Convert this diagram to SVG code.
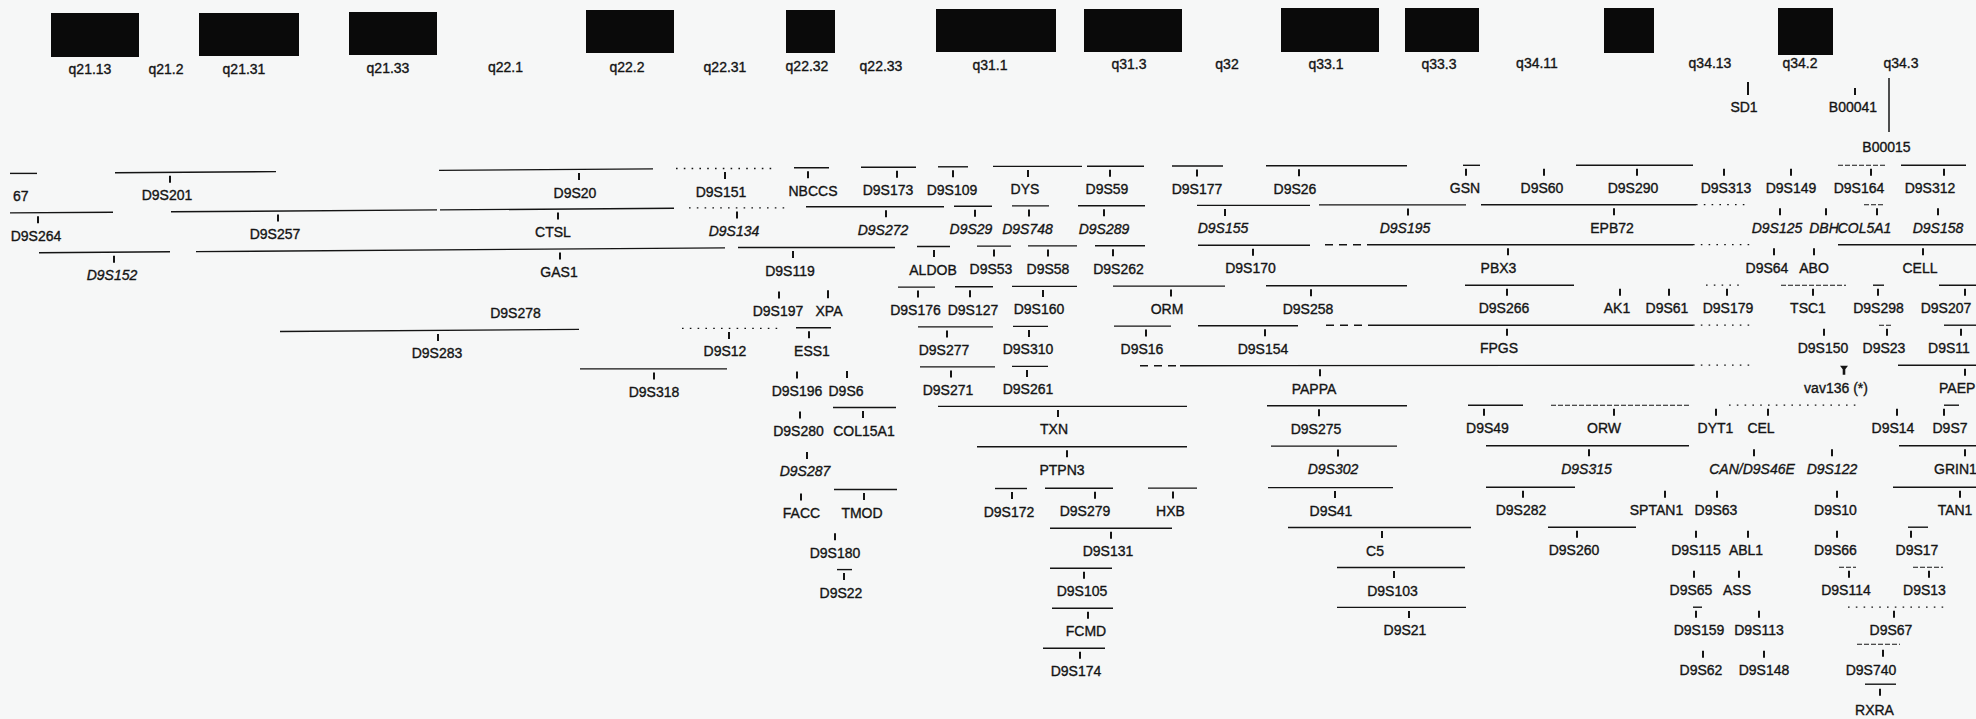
<svg xmlns="http://www.w3.org/2000/svg" width="1976" height="719" viewBox="0 0 1976 719">
<style>
.bg{fill:#f6f7f7}
.bx{fill:#0a0a0a}
.b{stroke:#141414;stroke-width:1.4;fill:none}
.t{stroke:#141414;stroke-width:2}
.dot{stroke-dasharray:1.6 6.2;stroke-width:1.3}
.dsh{stroke-dasharray:8 6}
.fnt{stroke-dasharray:5 2;stroke-width:1.1}
text{font-family:"Liberation Sans",Arial,sans-serif;font-size:14px;fill:#141414;stroke:#141414;stroke-width:0.35;text-anchor:middle}
.i{font-style:italic}
.s{text-anchor:start}
</style>
<rect class="bg" x="0" y="0" width="1976" height="719"/>
<g id="bands">
<g id="band-q21.13"><rect class="bx" x="51" y="13" width="88" height="44"/><text x="90" y="74">q21.13</text></g>
<g id="band-q21.2"><text x="166" y="74">q21.2</text></g>
<g id="band-q21.31"><rect class="bx" x="199" y="13" width="100" height="43"/><text x="244" y="74">q21.31</text></g>
<g id="band-q21.33"><rect class="bx" x="349" y="12" width="88" height="43"/><text x="388" y="72.5">q21.33</text></g>
<g id="band-q22.1"><text x="505.5" y="72">q22.1</text></g>
<g id="band-q22.2"><rect class="bx" x="586" y="10" width="88" height="43"/><text x="627" y="71.5">q22.2</text></g>
<g id="band-q22.31"><text x="725" y="71.5">q22.31</text></g>
<g id="band-q22.32"><rect class="bx" x="786" y="10" width="49" height="43"/><text x="807" y="71">q22.32</text></g>
<g id="band-q22.33"><text x="881" y="70.5">q22.33</text></g>
<g id="band-q31.1"><rect class="bx" x="936" y="9" width="120" height="43"/><text x="990" y="69.5">q31.1</text></g>
<g id="band-q31.3"><rect class="bx" x="1084" y="9" width="98" height="43"/><text x="1129" y="69">q31.3</text></g>
<g id="band-q32"><text x="1227" y="69">q32</text></g>
<g id="band-q33.1"><rect class="bx" x="1281" y="8" width="98" height="44"/><text x="1326" y="68.5">q33.1</text></g>
<g id="band-q33.3"><rect class="bx" x="1405" y="8" width="74" height="44"/><text x="1439" y="68.5">q33.3</text></g>
<g id="band-q34.11"><text x="1537" y="68.3">q34.11</text></g>
<g id="band-q34.12"><rect class="bx" x="1604" y="8" width="50" height="45"/></g>
<g id="band-q34.13"><text x="1710" y="68.3">q34.13</text></g>
<g id="band-q34.2"><rect class="bx" x="1778" y="8" width="55" height="47"/><text x="1800" y="68.3">q34.2</text></g>
<g id="band-q34.3"><text x="1901" y="68.3">q34.3</text></g>
</g>
<g id="connectors">
<line class="b" x1="1889" y1="78" x2="1889" y2="132" style="stroke-width:1.5"/>
</g>
<g id="n-SD1"><line class="t" x1="1748" y1="82" x2="1748" y2="95"/><text x="1744" y="112">SD1</text></g>
<g id="n-B00041"><line class="t" x1="1855" y1="88" x2="1855" y2="95"/><text x="1853" y="112">B00041</text></g>
<g id="n-B00015"><text x="1886.5" y="152">B00015</text></g>

<!-- Row 1 -->
<g id="n-67" transform="translate(0,6.9)"><line class="b" x1="10" y1="166.5" x2="37" y2="166.5"/><text class="s" x="13" y="194.5">67</text></g>
<g id="n-D9S201" transform="translate(0,5.8)"><line class="b" x1="115" y1="166.9" x2="276" y2="165.8"/><line class="t" x1="170" y1="170" x2="170" y2="177"/><text x="167" y="194.5">D9S201</text></g>
<g id="n-D9S20" transform="translate(0,3)"><line class="b" x1="439" y1="167.4" x2="653" y2="165.9"/><line class="t" x1="579" y1="170" x2="579" y2="177"/><text x="575" y="194.5">D9S20</text></g>
<g id="n-D9S151" transform="translate(0,2)"><line class="b dot" x1="676" y1="166.5" x2="775" y2="166.5"/><line class="t" x1="725" y1="170" x2="725" y2="177"/><text x="721" y="194.5">D9S151</text></g>
<g id="n-NBCCS" transform="translate(0,1.3)"><line class="b" x1="794" y1="166.5" x2="829" y2="166.5"/><line class="t" x1="808" y1="170" x2="808" y2="177"/><text x="813" y="194.5">NBCCS</text></g>
<g id="n-D9S173" transform="translate(0,0.8)"><line class="b" x1="861" y1="166.5" x2="916" y2="166.5"/><line class="t" x1="897" y1="170" x2="897" y2="177"/><text x="888" y="194.5">D9S173</text></g>
<g id="n-D9S109" transform="translate(0,0.3)"><line class="b" x1="938" y1="166.5" x2="968" y2="166.5"/><line class="t" x1="953" y1="170" x2="953" y2="177"/><text x="952" y="194.5">D9S109</text></g>
<g id="n-DYS" transform="translate(0,-0.1)"><line class="b" x1="993" y1="166.5" x2="1082" y2="166.5"/><line class="t" x1="1028" y1="170" x2="1028" y2="177"/><text x="1025" y="194.5">DYS</text></g>
<g id="n-D9S59" transform="translate(0,-0.3)"><line class="b" x1="1087" y1="166.5" x2="1144" y2="166.5"/><line class="t" x1="1110" y1="170" x2="1110" y2="177"/><text x="1107" y="194.5">D9S59</text></g>
<g id="n-D9S177" transform="translate(0,-0.5)"><line class="b" x1="1172" y1="166.5" x2="1223" y2="166.5"/><line class="t" x1="1197" y1="170" x2="1197" y2="177"/><text x="1197" y="194.5">D9S177</text></g>
<g id="n-D9S26" transform="translate(0,-0.8)"><line class="b" x1="1266" y1="166.5" x2="1407" y2="166.5"/><line class="t" x1="1299" y1="170" x2="1299" y2="177"/><text x="1295" y="194.5">D9S26</text></g>
<g id="n-GSN" transform="translate(0,-1.2)"><line class="b" x1="1463" y1="166.5" x2="1480" y2="166.5"/><line class="t" x1="1466" y1="170" x2="1466" y2="177"/><text x="1465" y="194.5">GSN</text></g>
<g id="n-D9S60" transform="translate(0,-1.3)"><line class="t" x1="1544" y1="170" x2="1544" y2="177"/><text x="1542" y="194.5">D9S60</text></g>
<g id="n-D9S290" transform="translate(0,-1.3)"><line class="b" x1="1576" y1="166.5" x2="1693" y2="166.5"/><line class="t" x1="1637" y1="170" x2="1637" y2="177"/><text x="1633" y="194.5">D9S290</text></g>
<g id="n-D9S313" transform="translate(0,-1.3)"><line class="t" x1="1724" y1="170" x2="1724" y2="177"/><text x="1726" y="194.5">D9S313</text></g>
<g id="n-D9S149" transform="translate(0,-1.3)"><line class="t" x1="1791" y1="170" x2="1791" y2="177"/><text x="1791" y="194.5">D9S149</text></g>
<g id="n-D9S164" transform="translate(0,-1.3)"><line class="b fnt" x1="1838" y1="166.5" x2="1885" y2="166.5"/><line class="t" x1="1871" y1="170" x2="1871" y2="177"/><text x="1859" y="194.5">D9S164</text></g>
<g id="n-D9S312" transform="translate(0,-1.3)"><line class="b" x1="1901" y1="166.5" x2="1966" y2="166.5"/><line class="t" x1="1944" y1="170" x2="1944" y2="177"/><text x="1930" y="194.5">D9S312</text></g>

<!-- Row 2 -->
<g id="n-D9S264" transform="translate(0,6.7)"><line class="b" x1="10" y1="206.2" x2="113" y2="205.5"/><line class="t" x1="38" y1="209.5" x2="38" y2="216.5"/><text x="36" y="234">D9S264</text></g>
<g id="n-D9S257" transform="translate(0,5.1)"><line class="b" x1="171" y1="206.7" x2="437" y2="204.8"/><line class="t" x1="278" y1="209.5" x2="278" y2="216.5"/><text x="275" y="234">D9S257</text></g>
<g id="n-CTSL" transform="translate(0,3.1)"><line class="b" x1="440" y1="206.8" x2="674" y2="205.2"/><line class="t" x1="558" y1="209.5" x2="558" y2="216.5"/><text x="553" y="234">CTSL</text></g>
<g id="n-D9S134" transform="translate(0,1.9)"><line class="b dot" x1="689" y1="206" x2="787" y2="206"/><line class="t" x1="737" y1="209.5" x2="737" y2="216.5"/><text class="i" x="734" y="234">D9S134</text></g>
<g id="n-D9S272" transform="translate(0,0.8)"><line class="b" x1="806" y1="206" x2="944" y2="206"/><line class="t" x1="886" y1="209.5" x2="886" y2="216.5"/><text class="i" x="883" y="234">D9S272</text></g>
<g id="n-D9S29" transform="translate(0,0.2)"><line class="b" x1="954" y1="206" x2="992" y2="206"/><line class="t" x1="975" y1="209.5" x2="975" y2="216.5"/><text class="i" x="971" y="234">D9S29</text></g>
<g id="n-D9S748" transform="translate(0,-0.1)"><line class="b" x1="1012" y1="206" x2="1049" y2="206"/><line class="t" x1="1029" y1="209.5" x2="1029" y2="216.5"/><text class="i" x="1027.5" y="234">D9S748</text></g>
<g id="n-D9S289" transform="translate(0,-0.3)"><line class="b" x1="1078" y1="206" x2="1145" y2="206"/><line class="t" x1="1104" y1="209.5" x2="1104" y2="216.5"/><text class="i" x="1104" y="234">D9S289</text></g>
<g id="n-D9S155" transform="translate(0,-0.6)"><line class="b" x1="1197" y1="206" x2="1310" y2="206"/><line class="t" x1="1225" y1="209.5" x2="1225" y2="216.5"/><text class="i" x="1223" y="234">D9S155</text></g>
<g id="n-D9S195" transform="translate(0,-1.1)"><line class="b" x1="1319" y1="206" x2="1466" y2="206"/><line class="t" x1="1408" y1="209.5" x2="1408" y2="216.5"/><text class="i" x="1405" y="234">D9S195</text></g>
<g id="n-EPB72" transform="translate(0,-1.3)"><line class="b" x1="1481" y1="206" x2="1696" y2="206"/><line class="b dot" x1="1696" y1="206" x2="1749" y2="206"/><line class="t" x1="1614" y1="209.5" x2="1614" y2="216.5"/><text x="1612" y="234">EPB72</text></g>
<g id="n-D9S125" transform="translate(0,-1.3)"><line class="t" x1="1780" y1="209.5" x2="1780" y2="216.5"/><text class="i" x="1777" y="234">D9S125</text></g>
<g id="n-DBH" transform="translate(0,-1.3)"><line class="t" x1="1826" y1="209.5" x2="1826" y2="216.5"/><text class="i" x="1824" y="234">DBH</text></g>
<g id="n-COL5A1" transform="translate(0,-1.3)"><line class="b fnt" x1="1864" y1="206" x2="1885" y2="206"/><line class="t" x1="1877" y1="209.5" x2="1877" y2="216.5"/><text class="i" x="1864.5" y="234">COL5A1</text></g>
<g id="n-D9S158" transform="translate(0,-1.3)"><line class="t" x1="1938" y1="209.5" x2="1938" y2="216.5"/><text class="i" x="1938" y="234">D9S158</text></g>

<!-- Row 3 -->
<g id="n-D9S152" transform="translate(0,6.2)"><line class="b" x1="39" y1="246.5" x2="170" y2="245.6"/><line class="t" x1="114" y1="249.5" x2="114" y2="256.5"/><text class="i" x="112" y="274">D9S152</text></g>
<g id="n-GAS1" transform="translate(0,3.1)"><line class="b" x1="196" y1="248.5" x2="725" y2="244.8"/><line class="t" x1="560" y1="249.5" x2="560" y2="256.5"/><text x="559" y="274">GAS1</text></g>
<g id="n-D9S119" transform="translate(0,1.5)"><line class="b" x1="738" y1="246" x2="895" y2="246"/><line class="t" x1="793" y1="249.5" x2="793" y2="256.5"/><text x="790" y="274">D9S119</text></g>
<g id="n-ALDOB" transform="translate(0,0.5)"><line class="b" x1="917" y1="246" x2="950" y2="246"/><line class="t" x1="934" y1="249.5" x2="934" y2="256.5"/><text x="933" y="274">ALDOB</text></g>
<g id="n-D9S53" transform="translate(0,0.1)"><line class="b" x1="977" y1="246" x2="1011" y2="246"/><line class="t" x1="994" y1="249.5" x2="994" y2="256.5"/><text x="991" y="274">D9S53</text></g>
<g id="n-D9S58" transform="translate(0,-0.1)"><line class="b" x1="1028" y1="246" x2="1077" y2="246"/><line class="t" x1="1048" y1="249.5" x2="1048" y2="256.5"/><text x="1048" y="274">D9S58</text></g>
<g id="n-D9S262" transform="translate(0,-0.3)"><line class="b" x1="1095" y1="246" x2="1145" y2="246"/><line class="t" x1="1113" y1="249.5" x2="1113" y2="256.5"/><text x="1118.5" y="274">D9S262</text></g>
<g id="n-D9S170" transform="translate(0,-0.7)"><line class="b" x1="1198" y1="246" x2="1310" y2="246"/><line class="t" x1="1253" y1="249.5" x2="1253" y2="256.5"/><text x="1250.5" y="274">D9S170</text></g>
<g id="n-PBX3" transform="translate(0,-1.3)"><line class="b dsh" x1="1325" y1="246" x2="1370" y2="246"/><line class="b" x1="1370" y1="246" x2="1693" y2="246"/><line class="b dot" x1="1693" y1="246" x2="1753" y2="246"/><line class="t" x1="1508" y1="249.5" x2="1508" y2="256.5"/><text x="1498.5" y="274">PBX3</text></g>
<g id="n-D9S64" transform="translate(0,-1.3)"><line class="t" x1="1774" y1="249.5" x2="1774" y2="256.5"/><text x="1767" y="274">D9S64</text></g>
<g id="n-ABO" transform="translate(0,-1.3)"><line class="t" x1="1814" y1="249.5" x2="1814" y2="256.5"/><text x="1814" y="274">ABO</text></g>
<g id="n-CELL" transform="translate(0,-1.3)"><line class="b" x1="1838" y1="246" x2="1976" y2="246"/><line class="t" x1="1923" y1="249.5" x2="1923" y2="256.5"/><text x="1920" y="274">CELL</text></g>

<!-- Row 4 -->
<g id="n-D9S278" transform="translate(0,3.4)"><text x="515.5" y="314.5">D9S278</text></g>
<g id="n-D9S197" transform="translate(0,1.6)"><line class="t" x1="779" y1="290" x2="779" y2="297"/><text x="778" y="314.5">D9S197</text></g>
<g id="n-XPA" transform="translate(0,1.2)"><line class="t" x1="828" y1="289" x2="828" y2="297"/><text x="829" y="314.5">XPA</text></g>
<g id="n-D9S176" transform="translate(0,0.6)"><line class="b" x1="898" y1="286.5" x2="935" y2="286.5"/><line class="t" x1="918" y1="290" x2="918" y2="297"/><text x="915.5" y="314.5">D9S176</text></g>
<g id="n-D9S127" transform="translate(0,0.2)"><line class="b" x1="955" y1="286.5" x2="993" y2="286.5"/><line class="t" x1="970" y1="290" x2="970" y2="297"/><text x="973" y="314.5">D9S127</text></g>
<g id="n-D9S160" transform="translate(0,-0.1)"><line class="b" x1="1012" y1="286.5" x2="1077" y2="286.5"/><line class="t" x1="1043" y1="290" x2="1043" y2="297"/><text x="1039" y="314.5">D9S160</text></g>
<g id="n-ORM" transform="translate(0,-0.4)"><line class="b" x1="1113" y1="286.5" x2="1225" y2="286.5"/><line class="t" x1="1171" y1="290" x2="1171" y2="297"/><text x="1167" y="314.5">ORM</text></g>
<g id="n-D9S258" transform="translate(0,-0.8)"><line class="b" x1="1266" y1="286.5" x2="1407" y2="286.5"/><line class="t" x1="1311" y1="290" x2="1311" y2="297"/><text x="1308" y="314.5">D9S258</text></g>
<g id="n-D9S266" transform="translate(0,-1.3)"><line class="b" x1="1465" y1="286.5" x2="1574" y2="286.5"/><line class="t" x1="1507" y1="290" x2="1507" y2="297"/><text x="1504" y="314.5">D9S266</text></g>
<g id="n-AK1" transform="translate(0,-1.3)"><line class="t" x1="1620" y1="290" x2="1620" y2="297"/><text x="1617" y="314.5">AK1</text></g>
<g id="n-D9S61" transform="translate(0,-1.3)"><line class="t" x1="1669" y1="290" x2="1669" y2="297"/><text x="1667" y="314.5">D9S61</text></g>
<g id="n-D9S179" transform="translate(0,-1.3)"><line class="b dot" x1="1706" y1="286.5" x2="1743" y2="286.5"/><line class="t" x1="1727" y1="290" x2="1727" y2="297"/><text x="1728" y="314.5">D9S179</text></g>
<g id="n-TSC1" transform="translate(0,-1.3)"><line class="b fnt" x1="1781" y1="286.5" x2="1846" y2="286.5"/><line class="t" x1="1813" y1="290" x2="1813" y2="297"/><text x="1808" y="314.5">TSC1</text></g>
<g id="n-D9S298" transform="translate(0,-1.3)"><line class="b" x1="1873" y1="286.5" x2="1884" y2="286.5"/><line class="t" x1="1878" y1="290" x2="1878" y2="297"/><text x="1878.5" y="314.5">D9S298</text></g>
<g id="n-D9S207" transform="translate(0,-1.3)"><line class="b" x1="1939" y1="286.5" x2="1976" y2="286.5"/><line class="t" x1="1965" y1="290" x2="1965" y2="297"/><text x="1946" y="314.5">D9S207</text></g>

<!-- Row 5 -->
<g id="n-D9S283" transform="translate(0,3.9)"><line class="b" x1="280" y1="327.6" x2="579" y2="325.5"/><line class="t" x1="438" y1="330" x2="438" y2="337"/><text x="437" y="354.5">D9S283</text></g>
<g id="n-D9S12" transform="translate(0,1.9)"><line class="b dot" x1="682" y1="326.5" x2="779" y2="326.5"/><line class="t" x1="729" y1="330" x2="729" y2="337"/><text x="725" y="354.5">D9S12</text></g>
<g id="n-ESS1" transform="translate(0,1.3)"><line class="b" x1="796" y1="326.5" x2="831" y2="326.5"/><line class="t" x1="809" y1="330" x2="809" y2="337"/><text x="812" y="354.5">ESS1</text></g>
<g id="n-D9S277" transform="translate(0,0.4)"><line class="b" x1="918" y1="326.5" x2="993" y2="326.5"/><line class="t" x1="947" y1="330" x2="947" y2="337"/><text x="944" y="354.5">D9S277</text></g>
<g id="n-D9S310" transform="translate(0,-0.1)"><line class="b" x1="1013" y1="326.5" x2="1048" y2="326.5"/><line class="t" x1="1029" y1="330" x2="1029" y2="337"/><text x="1028" y="354.5">D9S310</text></g>
<g id="n-D9S16" transform="translate(0,-0.4)"><line class="b" x1="1114" y1="326.5" x2="1171" y2="326.5"/><line class="t" x1="1146" y1="330" x2="1146" y2="337"/><text x="1142" y="354.5">D9S16</text></g>
<g id="n-D9S154" transform="translate(0,-0.7)"><line class="b" x1="1198" y1="326.5" x2="1298" y2="326.5"/><line class="t" x1="1265" y1="330" x2="1265" y2="337"/><text x="1263" y="354.5">D9S154</text></g>
<g id="n-FPGS" transform="translate(0,-1.3)"><line class="b dsh" x1="1326" y1="326.5" x2="1370" y2="326.5"/><line class="b" x1="1370" y1="326.5" x2="1693" y2="326.5"/><line class="b dot" x1="1693" y1="326.5" x2="1753" y2="326.5"/><line class="t" x1="1507" y1="330" x2="1507" y2="337"/><text x="1499" y="354.5">FPGS</text></g>
<g id="n-D9S150" transform="translate(0,-1.3)"><line class="t" x1="1824" y1="330" x2="1824" y2="337"/><text x="1823" y="354.5">D9S150</text></g>
<g id="n-D9S23" transform="translate(0,-1.3)"><line class="b fnt" x1="1879" y1="326.5" x2="1893" y2="326.5"/><line class="t" x1="1887" y1="330" x2="1887" y2="337"/><text x="1884" y="354.5">D9S23</text></g>
<g id="n-D9S11" transform="translate(0,-1.3)"><line class="b" x1="1944" y1="326.5" x2="1976" y2="326.5"/><line class="t" x1="1961" y1="330" x2="1961" y2="337"/><text x="1949" y="354.5">D9S11</text></g>

<!-- Row 6 -->
<g id="n-D9S318" transform="translate(0,2.4)"><line class="b" x1="580" y1="366.5" x2="727" y2="366.5"/><line class="t" x1="654" y1="370" x2="654" y2="377"/><text x="654" y="394.5">D9S318</text></g>
<g id="n-D9S196" transform="translate(0,1.4)"><line class="t" x1="797" y1="370" x2="797" y2="377"/><text x="797" y="394.5">D9S196</text></g>
<g id="n-D9S6" transform="translate(0,1.1)"><line class="t" x1="847" y1="370" x2="847" y2="377"/><text x="846" y="394.5">D9S6</text></g>
<g id="n-D9S271" transform="translate(0,0.4)"><line class="b" x1="920" y1="366.5" x2="995" y2="366.5"/><line class="t" x1="951" y1="370" x2="951" y2="377"/><text x="948" y="394.5">D9S271</text></g>
<g id="n-D9S261" transform="translate(0,-0.1)"><line class="b" x1="1012" y1="366.5" x2="1048" y2="366.5"/><line class="t" x1="1027" y1="370" x2="1027" y2="377"/><text x="1028" y="394.5">D9S261</text></g>
<g id="n-PAPPA" transform="translate(0,-0.8)"><line class="b dsh" x1="1140" y1="366.5" x2="1180" y2="366.5"/><line class="b" x1="1180" y1="366.5" x2="1693" y2="366"/><line class="b dot" x1="1693" y1="366" x2="1753" y2="366"/><line class="t" x1="1320" y1="370" x2="1320" y2="377"/><text x="1314" y="394.5">PAPPA</text></g>
<g id="n-vav136" transform="translate(0,-1.3)"><path d="M1840 367 L1848 367 L1845.3 370.5 L1845.3 376 L1842.7 376 L1842.7 370.5 Z" fill="#141414"/><text x="1836" y="394.5">vav136 (*)</text></g>
<g id="n-PAEP" transform="translate(0,-1.3)"><line class="b" x1="1898" y1="366.5" x2="1976" y2="366.5"/><line class="t" x1="1965" y1="370" x2="1965" y2="377"/><text class="s" x="1939" y="394.5">PAEP</text></g>

<!-- Row 7 -->
<g id="n-D9S280" transform="translate(0,1.4)"><line class="t" x1="800" y1="410" x2="800" y2="417"/><text x="798.5" y="434.5">D9S280</text></g>
<g id="n-COL15A1" transform="translate(0,1)"><line class="b" x1="833" y1="406.5" x2="896" y2="406.5"/><line class="t" x1="863" y1="410" x2="863" y2="417"/><text x="864" y="434.5">COL15A1</text></g>
<g id="n-TXN" transform="translate(0,-0.1)"><line class="b" x1="938" y1="406.5" x2="1187" y2="406.5"/><line class="t" x1="1058" y1="410" x2="1058" y2="417"/><text x="1054" y="434.5">TXN</text></g>
<g id="n-D9S275" transform="translate(0,-0.8)"><line class="b" x1="1267" y1="406.5" x2="1407" y2="406.5"/><line class="t" x1="1319" y1="410" x2="1319" y2="417"/><text x="1316" y="434.5">D9S275</text></g>
<g id="n-D9S49" transform="translate(0,-1.3)"><line class="b" x1="1468" y1="406.5" x2="1523" y2="406.5"/><line class="t" x1="1484" y1="410" x2="1484" y2="417"/><text x="1487.5" y="434.5">D9S49</text></g>
<g id="n-ORW" transform="translate(0,-1.3)"><line class="b fnt" x1="1551" y1="406.5" x2="1689" y2="406.5"/><line class="t" x1="1614" y1="410" x2="1614" y2="417"/><text x="1604" y="434.5">ORW</text></g>
<g id="n-DYT1" transform="translate(0,-1.3)"><line class="t" x1="1716" y1="410" x2="1716" y2="417"/><text x="1715.5" y="434.5">DYT1</text></g>
<g id="n-CEL" transform="translate(0,-1.3)"><line class="b dot" x1="1729" y1="406.5" x2="1859" y2="406.5"/><line class="t" x1="1768" y1="410" x2="1768" y2="417"/><text x="1761" y="434.5">CEL</text></g>
<g id="n-D9S14" transform="translate(0,-1.3)"><line class="t" x1="1897" y1="410" x2="1897" y2="417"/><text x="1893" y="434.5">D9S14</text></g>
<g id="n-D9S7" transform="translate(0,-1.3)"><line class="b" x1="1944" y1="406.5" x2="1959" y2="406.5"/><line class="t" x1="1944" y1="410" x2="1944" y2="417"/><text x="1950" y="434.5">D9S7</text></g>

<!-- Row 8 -->
<g id="n-D9S287" transform="translate(0,1.4)"><line class="t" x1="807" y1="450.5" x2="807" y2="457.5"/><text class="i" x="805" y="475">D9S287</text></g>
<g id="n-PTPN3" transform="translate(0,-0.2)"><line class="b" x1="977" y1="447" x2="1187" y2="447"/><line class="t" x1="1067" y1="450.5" x2="1067" y2="457.5"/><text x="1062" y="475">PTPN3</text></g>
<g id="n-D9S302" transform="translate(0,-0.9)"><line class="b" x1="1271" y1="447" x2="1397" y2="447"/><line class="t" x1="1338" y1="450.5" x2="1338" y2="457.5"/><text class="i" x="1333" y="475">D9S302</text></g>
<g id="n-D9S315" transform="translate(0,-1.3)"><line class="b" x1="1486" y1="447" x2="1689" y2="447"/><line class="t" x1="1589" y1="450.5" x2="1589" y2="457.5"/><text class="i" x="1586.5" y="475">D9S315</text></g>
<g id="n-CAN-D9S46E" transform="translate(0,-1.3)"><line class="t" x1="1754" y1="450.5" x2="1754" y2="457.5"/><text class="i" x="1752" y="475">CAN/D9S46E</text></g>
<g id="n-D9S122" transform="translate(0,-1.3)"><line class="t" x1="1832" y1="450.5" x2="1832" y2="457.5"/><text class="i" x="1832" y="475">D9S122</text></g>
<g id="n-GRIN1" transform="translate(0,-1.3)"><line class="b" x1="1899" y1="447" x2="1976" y2="447"/><line class="t" x1="1965" y1="450.5" x2="1965" y2="457.5"/><text class="s" x="1934" y="475">GRIN1</text></g>

<!-- Row 9 -->
<g id="n-FACC" transform="translate(0,1.4)"><line class="t" x1="801" y1="492" x2="801" y2="499"/><text x="801.5" y="516.5">FACC</text></g>
<g id="n-TMOD" transform="translate(0,1)"><line class="b" x1="834" y1="488.5" x2="897" y2="488.5"/><line class="t" x1="864" y1="492" x2="864" y2="499"/><text x="862" y="516.5">TMOD</text></g>
<g id="n-D9S172" transform="translate(0,0)"><line class="b" x1="995" y1="488.5" x2="1027" y2="488.5"/><line class="t" x1="1012" y1="492" x2="1012" y2="499"/><text x="1009" y="516.5">D9S172</text></g>
<g id="n-D9S279" transform="translate(0,-0.2)"><line class="b" x1="1045" y1="488.5" x2="1113" y2="488.5"/><line class="t" x1="1095" y1="492" x2="1095" y2="499"/><text x="1085" y="516.5">D9S279</text></g>
<g id="n-HXB" transform="translate(0,-0.4)"><line class="b" x1="1148" y1="488.5" x2="1197" y2="488.5"/><line class="t" x1="1173" y1="492" x2="1173" y2="499"/><text x="1170.5" y="516.5">HXB</text></g>
<g id="n-D9S41" transform="translate(0,-0.9)"><line class="b" x1="1268" y1="488.5" x2="1393" y2="488.5"/><line class="t" x1="1335" y1="492" x2="1335" y2="499"/><text x="1331" y="516.5">D9S41</text></g>
<g id="n-D9S282" transform="translate(0,-1.3)"><line class="b" x1="1486" y1="488.5" x2="1575" y2="488.5"/><line class="t" x1="1523" y1="492" x2="1523" y2="499"/><text x="1521" y="516.5">D9S282</text></g>
<g id="n-SPTAN1" transform="translate(0,-1.3)"><line class="t" x1="1665" y1="492" x2="1665" y2="499"/><text x="1656.5" y="516.5">SPTAN1</text></g>
<g id="n-D9S63" transform="translate(0,-1.3)"><line class="t" x1="1717" y1="492" x2="1717" y2="499"/><text x="1716" y="516.5">D9S63</text></g>
<g id="n-D9S10" transform="translate(0,-1.3)"><line class="t" x1="1837" y1="492" x2="1837" y2="499"/><text x="1835.5" y="516.5">D9S10</text></g>
<g id="n-TAN1" transform="translate(0,-1.3)"><line class="b" x1="1893" y1="488.5" x2="1976" y2="488.5"/><line class="t" x1="1960" y1="492" x2="1960" y2="499"/><text x="1955" y="516.5">TAN1</text></g>

<!-- Row 10 -->
<g id="n-D9S180" transform="translate(0,1.2)"><line class="t" x1="835" y1="532" x2="835" y2="539"/><text x="835" y="556.5">D9S180</text></g>
<g id="n-D9S131" transform="translate(0,-0.3)"><line class="b" x1="1050" y1="528.5" x2="1172" y2="528.5"/><line class="t" x1="1111" y1="532" x2="1111" y2="539"/><text x="1108" y="556.5">D9S131</text></g>
<g id="n-C5" transform="translate(0,-1)"><line class="b" x1="1288" y1="528.5" x2="1471" y2="528.5"/><line class="t" x1="1382" y1="532" x2="1382" y2="539"/><text x="1375" y="556.5">C5</text></g>
<g id="n-D9S260" transform="translate(0,-1.3)"><line class="b" x1="1548" y1="528.5" x2="1636" y2="528.5"/><line class="t" x1="1577" y1="532" x2="1577" y2="539"/><text x="1574" y="556.5">D9S260</text></g>
<g id="n-D9S115" transform="translate(0,-1.3)"><line class="t" x1="1696" y1="532" x2="1696" y2="539"/><text x="1696" y="556.5">D9S115</text></g>
<g id="n-ABL1" transform="translate(0,-1.3)"><line class="t" x1="1748" y1="532" x2="1748" y2="539"/><text x="1746" y="556.5">ABL1</text></g>
<g id="n-D9S66" transform="translate(0,-1.3)"><line class="t" x1="1837" y1="532" x2="1837" y2="539"/><text x="1835.5" y="556.5">D9S66</text></g>
<g id="n-D9S17" transform="translate(0,-1.3)"><line class="b" x1="1908" y1="528.5" x2="1928" y2="528.5"/><line class="t" x1="1911" y1="532" x2="1911" y2="539"/><text x="1917" y="556.5">D9S17</text></g>

<!-- Row 11 -->
<g id="n-D9S22" transform="translate(0,1.1)"><line class="b" x1="837" y1="568.5" x2="852" y2="568.5"/><line class="t" x1="844" y1="572" x2="844" y2="579"/><text x="841" y="596.5">D9S22</text></g>
<g id="n-D9S105" transform="translate(0,-0.2)"><line class="b" x1="1050" y1="568.5" x2="1112" y2="568.5"/><line class="t" x1="1084" y1="572" x2="1084" y2="579"/><text x="1082" y="596.5">D9S105</text></g>
<g id="n-D9S103" transform="translate(0,-1)"><line class="b" x1="1337" y1="568.5" x2="1465" y2="568.5"/><line class="t" x1="1394" y1="572" x2="1394" y2="579"/><text x="1392.5" y="596.5">D9S103</text></g>
<g id="n-D9S65" transform="translate(0,-1.3)"><line class="t" x1="1694" y1="572" x2="1694" y2="579"/><text x="1691" y="596.5">D9S65</text></g>
<g id="n-ASS" transform="translate(0,-1.3)"><line class="t" x1="1739" y1="572" x2="1739" y2="579"/><text x="1737" y="596.5">ASS</text></g>
<g id="n-D9S114" transform="translate(0,-1.3)"><line class="b fnt" x1="1839" y1="568.5" x2="1856" y2="568.5"/><line class="t" x1="1849" y1="572" x2="1849" y2="579"/><text x="1846" y="596.5">D9S114</text></g>
<g id="n-D9S13" transform="translate(0,-1.3)"><line class="b fnt" x1="1913" y1="568.5" x2="1943" y2="568.5"/><line class="t" x1="1929" y1="572" x2="1929" y2="579"/><text x="1924.5" y="596.5">D9S13</text></g>

<!-- Row 12 -->
<g id="n-FCMD" transform="translate(0,-0.2)"><line class="b" x1="1052" y1="608.5" x2="1113" y2="608.5"/><line class="t" x1="1088" y1="612" x2="1088" y2="619"/><text x="1086" y="636.5">FCMD</text></g>
<g id="n-D9S21" transform="translate(0,-1.1)"><line class="b" x1="1337" y1="608.5" x2="1466" y2="608.5"/><line class="t" x1="1409" y1="612" x2="1409" y2="619"/><text x="1405" y="636.5">D9S21</text></g>
<g id="n-D9S159" transform="translate(0,-1.3)"><line class="b" x1="1693" y1="608.5" x2="1702" y2="608.5"/><line class="t" x1="1696" y1="612" x2="1696" y2="619"/><text x="1699" y="636.5">D9S159</text></g>
<g id="n-D9S113" transform="translate(0,-1.3)"><line class="t" x1="1759" y1="612" x2="1759" y2="619"/><text x="1759" y="636.5">D9S113</text></g>
<g id="n-D9S67" transform="translate(0,-1.3)"><line class="b dot" x1="1848" y1="608.5" x2="1946" y2="608.5"/><line class="t" x1="1894" y1="612" x2="1894" y2="619"/><text x="1891" y="636.5">D9S67</text></g>

<!-- Row 13 -->
<g id="n-D9S174" transform="translate(0,-0.2)"><line class="b" x1="1043" y1="648.5" x2="1105" y2="648.5"/><line class="t" x1="1080" y1="652" x2="1080" y2="659"/><text x="1076" y="676.5">D9S174</text></g>
<g id="n-D9S62" transform="translate(0,-1.3)"><line class="t" x1="1703" y1="652" x2="1703" y2="659"/><text x="1701" y="676.5">D9S62</text></g>
<g id="n-D9S148" transform="translate(0,-1.3)"><line class="t" x1="1764" y1="652" x2="1764" y2="659"/><text x="1764" y="676.5">D9S148</text></g>
<g id="n-D9S740" transform="translate(0,-1.3)"><line class="b fnt" x1="1857" y1="645.5" x2="1900" y2="645.5"/><line class="t" x1="1883" y1="651" x2="1883" y2="658"/><text x="1871" y="676.5">D9S740</text></g>

<!-- Row 14 -->
<g id="n-RXRA" transform="translate(0,-1.3)"><line class="b" x1="1865" y1="685.5" x2="1896" y2="685.5"/><line class="t" x1="1880" y1="690" x2="1880" y2="697"/><text x="1874.5" y="716">RXRA</text></g>
</svg>
